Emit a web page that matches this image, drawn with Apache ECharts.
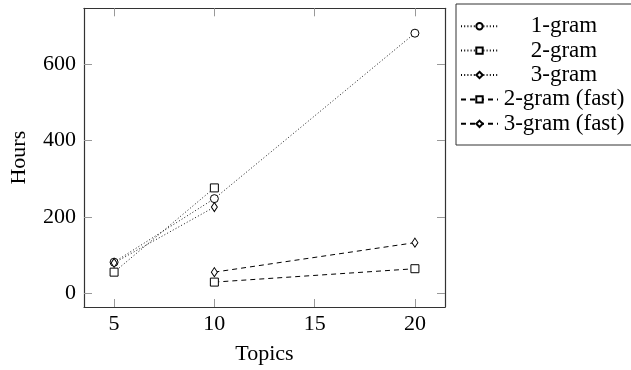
<!DOCTYPE html>
<html>
<head>
<meta charset="utf-8">
<script src="https://cdn.jsdelivr.net/npm/echarts@6/dist/echarts.min.js"></script>
<style>
html,body{margin:0;padding:0;background:#fff;}
#chart{width:631px;height:370px;}
</style>
</head>
<body>
<div id="chart"></div>
<script>
// Data
const topics = [5, 10, 20];
const oneGram = [82, 248, 680];
const twoGram = [56, 276, null];
const threeGram = [80, 226, null];
const twoGramFast = [null, 30, 65];
const threeGramFast = [null, 56, 133];
const xTicks = [5, 10, 15, 20];
const yTicks = [0, 200, 400, 600];
const seriesNames = ['1-gram', '2-gram', '3-gram', '2-gram (fast)', '3-gram (fast)'];

const FONT = 'Liberation Serif';

function pairs(vals) {
  const out = [];
  topics.forEach((t, i) => { if (vals[i] !== null) out.push([t, vals[i]]); });
  return out;
}

function mkSeries(name, vals, symbol, size, lineType) {
  return {
    name: name,
    type: 'line',
    data: pairs(vals),
    symbol: symbol,
    symbolSize: size,
    showAllSymbol: true,
    lineStyle: { color: '#000', width: lineType === 'dotted' ? 0.9 : 1, type: lineType === 'dotted' ? [1, 2.2] : [5, 4] },
    itemStyle: { color: '#fff', borderColor: '#000', borderWidth: 1 },
    emphasis: { disabled: true },
    animation: false
  };
}

const chart = echarts.init(document.getElementById('chart'), null, { renderer: 'canvas' });

const axisCommon = {
  type: 'value',
  axisLine: { show: true, onZero: false, lineStyle: { color: '#333', width: 1.2 } },
  axisTick: { show: true, inside: true, length: 8, lineStyle: { color: '#999', width: 1 } },
  splitLine: { show: false }
};

const option = {
  backgroundColor: '#fff',
  animation: false,
  grid: { left: 82.7, right: 186, top: 8.3, bottom: 60.7, containLabel: false },
  xAxis: [
    Object.assign({}, axisCommon, {
      min: 3.5, max: 21.5, position: 'bottom',
      axisTick: Object.assign({}, axisCommon.axisTick, { customValues: xTicks }),
      axisLabel: { customValues: xTicks, margin: 6, fontFamily: FONT, fontSize: 22, color: '#000' },
      name: 'Topics', nameLocation: 'middle', nameGap: 36,
      nameTextStyle: { fontFamily: FONT, fontSize: 22, color: '#000' }
    }),
    Object.assign({}, axisCommon, {
      min: 3.5, max: 21.5, position: 'top',
      axisTick: Object.assign({}, axisCommon.axisTick, { customValues: xTicks }),
      axisLabel: { show: false }
    })
  ],
  yAxis: [
    Object.assign({}, axisCommon, {
      min: -35, max: 745, position: 'left',
      axisTick: Object.assign({}, axisCommon.axisTick, { customValues: yTicks }),
      axisLabel: { customValues: yTicks, margin: 8, fontFamily: FONT, fontSize: 22, color: '#000' },
      name: 'Hours', nameLocation: 'middle', nameGap: 54,
      nameTextStyle: { fontFamily: FONT, fontSize: 22, color: '#000' }
    }),
    Object.assign({}, axisCommon, {
      min: -35, max: 745, position: 'right',
      axisTick: Object.assign({}, axisCommon.axisTick, { customValues: yTicks }),
      axisLabel: { show: false }
    })
  ],
  legend: {
    orient: 'vertical',
    left: 456, top: 4,
    padding: [10, 7, 9, 4],
    itemGap: 0,
    itemWidth: 37,
    itemHeight: 8,
    backgroundColor: '#fff',
    borderColor: '#333',
    borderWidth: 1,
    borderRadius: 0,
    selectedMode: false,
    data: seriesNames,
    formatter: function (name) { return '{c|' + name + '}'; },
    textStyle: {
      fontFamily: FONT, fontSize: 23, color: '#000', lineHeight: 24.4,
      rich: { c: { width: 122, lineHeight: 24.4, align: 'center', fontFamily: FONT, fontSize: 23, color: '#000' } }
    }
  },
  series: [
    mkSeries(seriesNames[0], oneGram, 'circle', 8, 'dotted'),
    mkSeries(seriesNames[1], twoGram, 'rect', 8, 'dotted'),
    mkSeries(seriesNames[2], threeGram, 'diamond', [6, 9], 'dotted'),
    mkSeries(seriesNames[3], twoGramFast, 'rect', 8, 'dashed'),
    mkSeries(seriesNames[4], threeGramFast, 'diamond', [6, 9], 'dashed')
  ]
};

chart.setOption(option);
</script>
</body>
</html>
